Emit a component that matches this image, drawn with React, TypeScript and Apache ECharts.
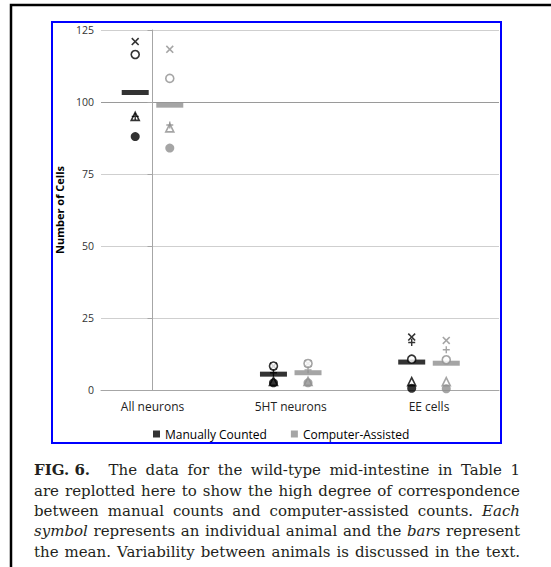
import React, { useEffect, useRef } from "react";
import * as echarts from "echarts";

const categories = ["All neurons", "5HT neurons", "EE cells"];
const manualCross = [121, 8.3, 18.4];
const manualCircle = [116.5, 8.3, 10.7];
const manualTriangle = [95, 3, 2.9];
const manualPlus = [95, 6, 16.5];
const manualDot = [88, 2.5, 0.6];
const manualMean = [103.3, 5.5, 9.7];
const computerCross = [118.3, 9.2, 17.2];
const computerCircle = [108.2, 9.2, 10.5];
const computerTriangle = [91, 3, 2.9];
const computerPlus = [92, 7, 14];
const computerDot = [84, 2.5, 0.4];
const computerMean = [98.9, 6, 9.3];
const yMin = 0;
const yMax = 125;
const yInterval = 25;
const seriesNames = ["Manually Counted", "Computer-Assisted"];

type Tok = { t: string; b?: boolean; i?: boolean };
const captionLines: Tok[][] = [
  [{ t: "FIG. 6.", b: true }, { t: "The" }, { t: "data" }, { t: "for" }, { t: "the" }, { t: "wild-type" }, { t: "mid-intestine" }, { t: "in" }, { t: "Table" }, { t: "1" }],
  "are replotted here to show the high degree of correspondence".split(" ").map((t) => ({ t })),
  [...("between manual counts and computer-assisted counts.".split(" ").map((t) => ({ t }))), { t: "Each", i: true }],
  [{ t: "symbol", i: true }, ...("represents an individual animal and the".split(" ").map((t) => ({ t }))), { t: "bars", i: true }, { t: "represent" }],
  "the mean. Variability between animals is discussed in the text.".split(" ").map((t) => ({ t })),
];

const BLACK = "#000000";
const GRAY = "#8f8f8f";
const OFF = 0.125;

const crossPath = "path://M0,1.4 L1.4,0 L5,3.6 L8.6,0 L10,1.4 L6.4,5 L10,8.6 L8.6,10 L5,6.4 L1.4,10 L0,8.6 L3.6,5 Z";
const plusPath = "path://M4,0 L6,0 L6,4 L10,4 L10,6 L6,6 L6,10 L4,10 L4,6 L0,6 L0,4 L4,4 Z";

function pts(vals: number[], off: number) {
  return vals.map((v, i) => [i + off, v]);
}

export default function App() {
  const ref = useRef<HTMLDivElement>(null);
  useEffect(() => {
    if (!ref.current) return;
    const chart = echarts.init(ref.current, undefined, { renderer: "svg" });

    const canvas = document.createElement("canvas");
    const ctx = canvas.getContext("2d")!;
    const fam = '"DejaVu Serif", serif';
    const baseFs = 15;
    const fontOf = (tk: Tok, size: number) => `${tk.i ? "italic " : ""}${tk.b ? "bold " : ""}${size}px ${fam}`;
    const capLeft = 34;
    const capW = 486;
    const lineY = [470, 490.5, 511, 531, 551.5];
    const capEls: any[] = [];
    captionLines.forEach((line, li) => {
      const extra = li === 0 ? 10 : 0;
      let fs = baseFs;
      let widths: number[] = [];
      let total = 0;
      for (let iter = 0; iter < 10; iter++) {
        widths = line.map((tk) => {
          ctx.font = fontOf(tk, fs);
          return ctx.measureText(tk.t).width;
        });
        total = widths.reduce((a, b) => a + b, 0);
        if (total + extra + 3.5 * (line.length - 1) <= capW) break;
        fs -= 0.25;
      }
      const gap = (capW - total - extra) / (line.length - 1);
      let x = capLeft;
      line.forEach((tk, k) => {
        capEls.push({
          type: "text",
          x,
          y: lineY[li],
          style: {
            text: tk.t,
            fill: "#231f20",
            fontSize: fs,
            fontFamily: fam,
            fontWeight: tk.b ? "bold" : "normal",
            fontStyle: tk.i ? "italic" : "normal",
            textVerticalAlign: "middle",
          },
        });
        x += widths[k] + gap + (k === 0 ? extra : 0);
      });
    });

    const mk = (name: string, data: number[][], symbol: string, color: string, size: number, hollow: boolean, z = 3) => ({
      type: "scatter",
      name,
      data,
      symbol,
      symbolSize: size,
      z,
      itemStyle: hollow
        ? { color: "#ffffff", borderColor: color, borderWidth: 1.6 }
        : { color, borderWidth: 0 },
      emphasis: { disabled: true },
    });

    const labelFont = '"Open Sans", "Liberation Sans", sans-serif';

    chart.setOption({
      animation: false,
      backgroundColor: "#ffffff",
      grid: { left: 101, right: 52, top: 30, bottom: 177 },
      legend: {
        data: [
          { name: seriesNames[0], icon: "rect", itemStyle: { color: BLACK } },
          { name: seriesNames[1], icon: "rect", itemStyle: { color: GRAY } },
        ],
        left: 148,
        top: 423,
        itemWidth: 7,
        itemHeight: 7,
        itemGap: 24,
        textStyle: { fontSize: 12, color: "#000", fontFamily: labelFont },
        selectedMode: false,
      },
      xAxis: {
        type: "value",
        min: -0.3725,
        max: 2.5064,
        splitLine: { show: false },
        axisTick: { show: false },
        axisLine: { show: true, lineStyle: { color: "#a6a6a6", width: 1 } },
        axisLabel: {
          customValues: [0, 1, 2],
          formatter: (v: number) => categories[Math.round(v)] ?? "",
          fontSize: 12,
          color: "#222",
          margin: 10,
          fontFamily: labelFont,
        },
      },
      yAxis: {
        type: "value",
        min: yMin,
        max: yMax,
        interval: yInterval,
        name: "Number of Cells",
        nameLocation: "middle",
        nameGap: 34,
        nameTextStyle: { fontSize: 11, fontWeight: "bold", color: "#000", fontFamily: labelFont },
        axisLine: { show: true, lineStyle: { color: "#a6a6a6", width: 1 } },
        axisTick: { show: true, length: 5, lineStyle: { color: "#a6a6a6" } },
        axisLabel: { fontSize: 10.5, color: "#333", margin: 7, fontFamily: labelFont },
        splitLine: {
          show: true,
          lineStyle: { color: ["#cfcfcf", "#cfcfcf", "#cfcfcf", "#cfcfcf", "#9a9a9a", "#cfcfcf"], width: 1 },
        },
      },
      series: [
        { ...mk(seriesNames[0], pts(manualMean, -OFF), "rect", BLACK, 1, false, 2), symbolSize: [27, 5] },
        { ...mk(seriesNames[1], pts(computerMean, OFF), "rect", GRAY, 1, false, 2), symbolSize: [27, 5] },
        mk("m-cross", pts(manualCross, -OFF), crossPath, BLACK, 8, false),
        mk("m-circle", pts(manualCircle, -OFF), "circle", BLACK, 8, true),
        mk("m-triangle", pts(manualTriangle, -OFF), "triangle", BLACK, 8, true),
        mk("m-plus", pts(manualPlus, -OFF), plusPath, BLACK, 7, false, 4),
        mk("m-dot", pts(manualDot, -OFF), "circle", BLACK, 9, false),
        mk("c-cross", pts(computerCross, OFF), crossPath, GRAY, 8, false),
        mk("c-circle", pts(computerCircle, OFF), "circle", GRAY, 8, true),
        mk("c-triangle", pts(computerTriangle, OFF), "triangle", GRAY, 8, true),
        mk("c-plus", pts(computerPlus, OFF), plusPath, GRAY, 7, false, 4),
        mk("c-dot", pts(computerDot, OFF), "circle", GRAY, 9, false),
      ],
      graphic: [
        {
          type: "polyline",
          shape: { points: [[11, 567], [11, 5], [551, 5]] },
          style: { stroke: "#000", lineWidth: 2.5, fill: "none" },
          z: 10,
        },
        {
          type: "rect",
          shape: { x: 52, y: 22, width: 449, height: 421 },
          style: { stroke: "#0000ff", lineWidth: 2, fill: "none" },
          z: 10,
        },
        ...capEls,
      ],
    });
    return () => chart.dispose();
  }, []);
  return (
    <div
      ref={ref}
      style={{ position: "absolute", left: 0, top: 0, width: 551, height: 567 }}
    />
  );
}
